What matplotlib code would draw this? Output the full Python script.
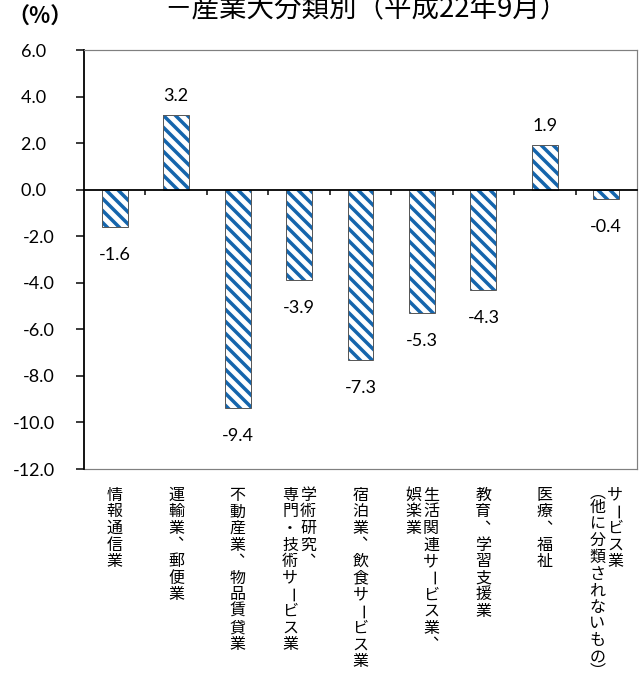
import numpy as np
import matplotlib
matplotlib.use('Agg')
import matplotlib.pyplot as plt

# data
categories = ['情報通信業', '運輸業、郵便業', '不動産業、物品賃貸業',
              '学術研究、\n専門・技術サービス業', '宿泊業、飲食サービス業',
              '生活関連サービス業、\n娯楽業', '教育、学習支援業', '医療、福祉',
              'サービス業\n（他に分類されないもの）']
values = [-1.6, 3.2, -9.4, -3.9, -7.3, -5.3, -4.3, 1.9, -0.4]
y_ticks = [6.0, 4.0, 2.0, 0.0, -2.0, -4.0, -6.0, -8.0, -10.0, -12.0]
title = '－産業大分類別（平成22年9月）'
unit = '（%）'

DPI = 72  # 1 pt == 1 px
W, H = 644, 682
JP = 'Noto Sans CJK JP'
NUM = 'Lato'
BLUE = '#1565AC'

plt.rcParams['font.family'] = [NUM, JP, 'DejaVu Sans']
plt.rcParams['hatch.linewidth'] = 3.5

fig = plt.figure(figsize=(W / DPI, H / DPI), dpi=DPI)
fig.patch.set_facecolor('white')
ax = fig.add_axes([84 / W, 1 - 469 / H, (637 - 84) / W, (469 - 50) / H])

x = np.arange(len(values))
# hatched fill, then grey outline on top
ax.bar(x, values, 0.42, color='white', edgecolor=BLUE, hatch='\\\\', linewidth=0)
ax.bar(x, values, 0.42, fill=False, edgecolor='#595959', linewidth=1)

ax.set_xlim(-0.5, len(values) - 0.5)
ax.set_ylim(y_ticks[-1], y_ticks[0])

# axes look like excel: zero line is the x axis
ax.spines['bottom'].set_position(('data', 0))
ax.spines['bottom'].set_color('black')
ax.spines['bottom'].set_linewidth(1.8)
ax.spines['left'].set_color('black')
ax.spines['left'].set_linewidth(1.8)
for s in ['top', 'right']:
    ax.spines[s].set_color('#808080')
    ax.spines[s].set_linewidth(1.2)
ax.axhline(y_ticks[-1], color='#808080', linewidth=1.2, clip_on=False)

ax.set_xticks(np.arange(0.5, len(values) - 1, 1))
ax.tick_params(axis='x', direction='out', length=5, width=1.5, labelbottom=False)
ax.set_yticks(y_ticks)
ax.set_yticklabels([f'{v:.1f}' + ('  ' if v >= 0 else '') for v in y_ticks])
ax.tick_params(axis='y', direction='out', length=8, width=1.5, pad=21, labelsize=18)

# value labels
for i, v in enumerate(values):
    off = 14 if v >= 0 else -33
    ax.annotate(f'{v:.1f}', (i, v), xytext=(0, off), textcoords='offset points',
                ha='center', va='baseline', fontsize=18)

# vertical japanese category labels, columns right to left
S = 16.6
vert_forms = {'（': '\ufe35', '）': '\ufe36'}
trans = ax.get_xaxis_transform()
for i, lab in enumerate(categories):
    cols = lab.split('\n')
    offs = [0] if len(cols) == 1 else [9, -9]
    for col, dx in zip(cols, offs):
        y = 18
        for ch in col:
            step = S * 0.75 if ch in '（）' else S
            glyph = vert_forms.get(ch, ch)
            if ch == '、':
                # comma sits at top right of its cell
                ax.annotate('、', (i, 0), xycoords=trans, xytext=(dx + 9, -(y - 1)),
                            textcoords='offset points', ha='center', va='center',
                            fontsize=16, family=JP, annotation_clip=False)
            else:
                ax.annotate(glyph, (i, 0), xycoords=trans, xytext=(dx, -(y + step / 2)),
                            textcoords='offset points', ha='center', va='center',
                            fontsize=16, family=JP,
                            rotation=-90 if ch == 'ー' else 0,
                            annotation_clip=False)
            y += step

fig.text(366 / W, 1 - 10 / H, title, ha='center', va='center', fontsize=27.5, family=JP)
fig.text(40 / W, 1 - 17 / H, unit, ha='center', va='center', fontsize=22,
         family=JP, fontweight='bold')

fig.savefig('out.png', dpi=DPI)
